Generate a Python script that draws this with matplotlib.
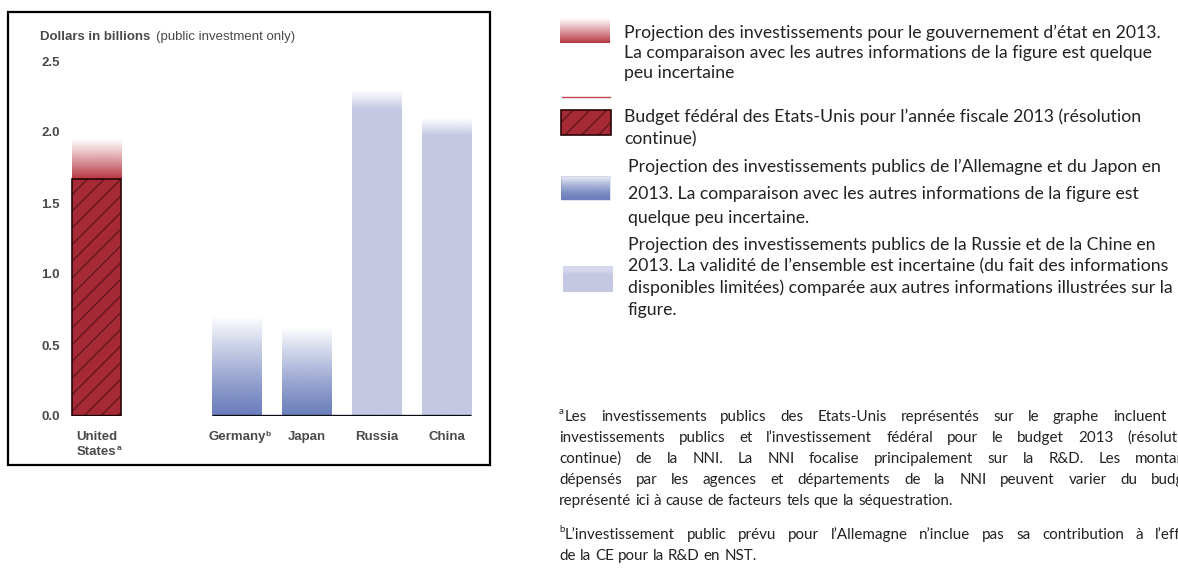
import numpy as np
import matplotlib.pyplot as plt
from matplotlib.colors import to_rgb

# data (billions of dollars)
countries = ['United\nStates', 'Germany', 'Japan', 'Russia', 'China']
footmarks = ['a', 'b', '', '', '']
positions = [0, 2, 3, 4, 5]
us_federal_budget = 1.67
projection_2013 = [1.95, 0.70, 0.62, 2.30, 2.10]
bar_kind = ['us', 'gradient', 'gradient', 'flat', 'flat']
y_ticks = [0.0, 0.5, 1.0, 1.5, 2.0, 2.5]

RED = '#b5303e'
RED_DARK = '#a62a35'
HATCH = '#64161e'
BLUE = '#6b7ebc'
LILAC = '#c4c8e2'
GREY = '#4a4a4a'
TXT = '#222222'

legend_lines = [
    ['Projection des investissements pour le gouvernement d\u2019état en 2013.',
     'La comparaison avec les autres informations de la figure est quelque',
     'peu incertaine'],
    ['Budget fédéral des Etats-Unis pour l\u2019année fiscale 2013 (résolution',
     'continue)'],
    ['Projection des investissements publics de l\u2019Allemagne et du Japon en',
     '2013. La comparaison avec les autres informations de la figure est',
     'quelque peu incertaine.'],
    ['Projection des investissements publics de la Russie et de la Chine en',
     '2013. La validité de l\u2019ensemble est incertaine (du fait des informations',
     'disponibles limitées) comparée aux autres informations illustrées sur la',
     'figure.'],
]
note_a = [
    'Les investissements publics des Etats-Unis représentés sur le graphe incluent les',
    'investissements publics et l\u2019investissement fédéral pour le budget 2013 (résolution',
    'continue) de la NNI. La NNI focalise principalement sur la R&D. Les  montants',
    'dépensés par les agences et départements de la NNI  peuvent varier du budget',
    'représenté ici à cause de facteurs tels que la séquestration.',
]
note_b = [
    'L\u2019investissement public prévu pour l\u2019Allemagne n\u2019inclue pas sa contribution à l\u2019effort',
    'de la CE pour la R&D en NST.',
]

plt.rcParams['hatch.linewidth'] = 1.0


def gradient(ax, x0, x1, y0, y1, color, alpha, zorder=2):
    img = np.zeros((len(alpha), 1, 4))
    img[..., :3] = to_rgb(color)
    img[:, 0, 3] = alpha
    ax.imshow(img, extent=[x0, x1, y0, y1], origin='lower', aspect='auto',
              interpolation='bilinear', zorder=zorder)


t = np.linspace(0, 1, 200)
fade_full = 1 - t ** 1.2
fade_top = np.clip((1 - t) / 0.06, 0, 1)

fig = plt.figure(figsize=(11.78, 5.68), dpi=100)
W, H = 1178, 568

# ---- bar chart ----
ax = fig.add_axes([64 / W, (H - 416) / H, (482 - 64) / W, 2.6 * 142 / H])
width = 0.7
for x, val, kind in zip(positions, projection_2013, bar_kind):
    if kind == 'us':
        gradient(ax, x - width / 2, x + width / 2, us_federal_budget, val, RED,
                 1 - t ** 0.9)
        ax.bar(x, us_federal_budget, width, color=RED_DARK, hatch='//',
               edgecolor=HATCH, linewidth=0, zorder=3)
        ax.bar(x, us_federal_budget, width, fill=False, edgecolor='#2a0507',
               linewidth=1.2, zorder=4)
    elif kind == 'gradient':
        gradient(ax, x - width / 2, x + width / 2, 0, val, BLUE, fade_full)
    else:
        gradient(ax, x - width / 2, x + width / 2, 0, val, LILAC, fade_top)

others = positions[1:]
ax.plot([min(others) - width / 2, max(others) + width / 2], [0, 0],
        color='#0a0a14', lw=2.4, solid_capstyle='butt', zorder=5)
ax.plot([-width / 2, width / 2], [0, 0], color='#1a0304', lw=2.4,
        solid_capstyle='butt', zorder=5)

ax.set_xlim(-0.47, 5.5)
ax.set_ylim(0, 2.6)
ax.set_yticks(y_ticks)
ax.set_yticklabels([f'{v:.1f}' for v in y_ticks], fontsize=9.5, fontweight='bold',
                   color=GREY, family='Liberation Sans')
ax.set_xticks(positions)
ax.set_xticklabels(countries, fontsize=9.5, fontweight='bold', color=GREY,
                   family='Liberation Sans', linespacing=1.25)
for lab in ax.get_xticklabels():
    lab.set_multialignment('center')
ax.tick_params(axis='y', length=0, pad=3)
ax.tick_params(axis='x', length=0, pad=11)
for s in ax.spines.values():
    s.set_visible(False)
ax.patch.set_alpha(0)

# ---- overlay in pixel coordinates for frame, legend and notes ----
ov = fig.add_axes([0, 0, 1, 1], zorder=-1)
ov.set_xlim(0, W)
ov.set_ylim(H, 0)
ov.axis('off')
ov.add_patch(plt.Rectangle((8, 12), 482, 453, fill=False, edgecolor='black', lw=1.6))

ov.text(40, 37, 'Dollars in billions', fontsize=9.5, fontweight='bold', color=GREY,
        family='Liberation Sans', va='center')
ov.text(156, 37, '(public investment only)', fontsize=9.5, color=GREY,
        family='Liberation Sans', va='center')

# legend swatches
gradient(ov, 560, 610, 43, 18, RED, 1 - t ** 0.9)
ov.plot([562, 610], [97, 97], color='#c0404c', lw=1)
ov.add_patch(plt.Rectangle((561, 110), 50, 25, facecolor=RED_DARK, hatch='//',
                           edgecolor=HATCH, lw=0))
ov.add_patch(plt.Rectangle((561, 110), 50, 25, fill=False, edgecolor='#2a0507', lw=1.2))
gradient(ov, 561, 610, 200, 176, BLUE, 1 - t ** 1.6 * 0.9)
ov.add_patch(plt.Rectangle((561, 176), 49, 24, fill=False, edgecolor='#e0e3f0', lw=0.8))
gradient(ov, 563, 613, 292, 266, LILAC, np.clip((1 - t) / 0.3, 0.7, 1))

font = dict(family='Lato', fontsize=12.7, color=TXT, va='center')
block_y = [[33, 53, 73], [117, 139], [167, 194, 218], [245, 266, 288, 310]]
block_x = [624, 624, 628, 628]
for lines, ys, bx in zip(legend_lines, block_y, block_x):
    for line, y in zip(lines, ys):
        ov.text(bx, y, line, **font)

fig.canvas.draw()
renderer = fig.canvas.get_renderer()
to_px = ov.transData.inverted()

# footnote marks next to the country labels
for lab, mark in zip(ax.get_xticklabels(), footmarks):
    if not mark:
        continue
    bb = lab.get_window_extent(renderer)
    x_r, y_b = to_px.transform((bb.x1, bb.y0))
    ov.text(x_r - 0.5, y_b - 9, mark, fontsize=6, fontweight='bold', color=GREY,
            family='Liberation Sans', va='center')

# justified footnotes
note_font = dict(family='Lato', fontsize=10.9, color=TXT, va='center')


def justified(lines, y0, dy, x0, x1, mark):
    ov.text(x0, y0 - 6, mark, family='Lato', fontsize=7, color=TXT, va='center')
    for i, line in enumerate(lines):
        y = y0 + i * dy
        start = x0 + 6 if i == 0 else x0
        words = line.split()
        objs = [ov.text(0, y, w, **note_font) for w in words]
        widths = [o.get_window_extent(renderer).width for o in objs]
        last = i == len(lines) - 1
        gap = 4.0 if last or len(words) == 1 else (x1 - start - sum(widths)) / (len(words) - 1)
        x = start
        for o, w in zip(objs, widths):
            o.set_x(x)
            x += w + gap


justified(note_a, 417, 21, 559, 1198, 'a')
justified(note_b, 535, 21, 559, 1200, 'b')

fig.savefig('out.png', dpi=100)
